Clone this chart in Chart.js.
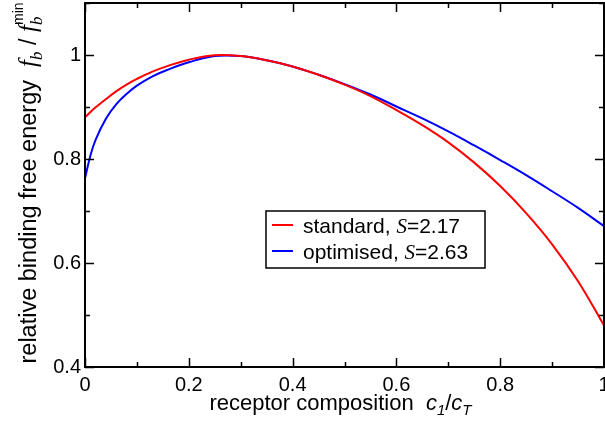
<!DOCTYPE html>
<html>
<head>
<meta charset="utf-8">
<script src="https://cdn.jsdelivr.net/npm/chart.js@4/dist/chart.umd.min.js"></script>
<style>
  html, body { margin: 0; padding: 0; background: #fff; }
  #wrap { width: 605px; height: 421px; }
</style>
</head>
<body>
<div id="wrap"><canvas id="chart"></canvas></div>
<script>
// receptor composition c1/cT
const composition = [0, 0.01, 0.02, 0.04, 0.06, 0.08, 0.1, 0.13, 0.16, 0.2, 0.25, 0.3, 0.35,
  0.4, 0.45, 0.5, 0.55, 0.6, 0.65, 0.7, 0.75, 0.8, 0.85, 0.9, 0.95, 1.0];
// relative binding free energy fb / fb_min
const standardVals = [0.880, 0.890, 0.899, 0.915, 0.930, 0.943, 0.954, 0.968, 0.979, 0.991, 0.9995, 0.998, 0.990,
  0.978, 0.962, 0.943, 0.921, 0.894, 0.865, 0.832, 0.793, 0.748, 0.696, 0.636, 0.565, 0.480];
const optimisedVals = [0.763, 0.805, 0.836, 0.877, 0.905, 0.925, 0.941, 0.959, 0.972, 0.986, 0.998, 0.998, 0.990,
  0.978, 0.962, 0.944, 0.924, 0.901, 0.878, 0.853, 0.826, 0.798, 0.769, 0.738, 0.706, 0.671];

const seriesNames = ['standard, ', 'optimised, '];
const seriesS = ['2.17', '2.63'];
const xTicks = [0, 0.2, 0.4, 0.6, 0.8, 1];
const yTicks = [0.4, 0.6, 0.8, 1];

const sans = '"Liberation Sans", Arial, sans-serif';
const serif = '"Liberation Serif", "Times New Roman", serif';

function pts(ys){ return composition.map((x, i) => ({x: x, y: ys[i]})); }

// draw a row of text pieces with their own fonts / offsets
function drawRuns(ctx, runs, x, y, align){
  let w = 0;
  runs.forEach(r => { ctx.font = r.font; r.w = r.stack ? 0 : ctx.measureText(r.text).width; w += r.w; });
  let cx = align === 'center' ? x - w / 2 : x;
  runs.forEach(r => {
    ctx.font = r.font;
    ctx.fillText(r.text, cx, y + (r.dy || 0));
    cx += r.w;
  });
}

const framePlugin = {
  id: 'frame',
  afterDatasetsDraw(chart){
    const ctx = chart.ctx, a = chart.chartArea;
    const xs = chart.scales.x, ys = chart.scales.y;
    ctx.save();
    ctx.strokeStyle = '#000';
    ctx.lineWidth = 2;
    ctx.strokeRect(a.left, a.top, a.right - a.left, a.bottom - a.top);
    ctx.lineWidth = 1.5;
    ctx.beginPath();
    for (let i = 0; i <= 10; i++){
      const px = Math.round(xs.getPixelForValue(i / 10)) + 0.5;
      const len = i % 2 === 0 ? 9 : 5;
      ctx.moveTo(px, a.bottom); ctx.lineTo(px, a.bottom - len);
      ctx.moveTo(px, a.top); ctx.lineTo(px, a.top + len);
    }
    for (let i = 4; i <= 11; i++){
      const py = Math.round(ys.getPixelForValue(i / 10)) + 0.5;
      const len = i % 2 === 0 ? 9 : 5;
      ctx.moveTo(a.left, py); ctx.lineTo(a.left + len, py);
      ctx.moveTo(a.right, py); ctx.lineTo(a.right - len, py);
    }
    ctx.stroke();

    // legend box
    const lx = a.left + 181, ly = a.top + 208, lw = 219, lh = 57;
    ctx.fillStyle = '#fff';
    ctx.fillRect(lx, ly, lw, lh);
    ctx.lineWidth = 1.5;
    ctx.strokeRect(lx, ly, lw, lh);
    chart.data.datasets.forEach((ds, i) => {
      const yy = ly + 14 + i * 26;
      ctx.strokeStyle = ds.borderColor;
      ctx.lineWidth = 2;
      ctx.beginPath();
      ctx.moveTo(lx + 6, yy); ctx.lineTo(lx + 27, yy);
      ctx.stroke();
      ctx.fillStyle = '#000';
      ctx.textBaseline = 'alphabetic';
      ctx.textAlign = 'left';
      drawRuns(ctx, [
        {text: seriesNames[i], font: '21px ' + sans},
        {text: 'S', font: 'italic 21px ' + serif},
        {text: '=' + seriesS[i], font: '21px ' + sans}
      ], lx + 37, yy + 8, 'left');
    });

    // axis titles
    ctx.fillStyle = '#000';
    ctx.textAlign = 'left';
    ctx.textBaseline = 'alphabetic';
    drawRuns(ctx, [
      {text: 'receptor composition  ', font: '22px ' + sans},
      {text: 'c', font: 'italic 22px ' + sans},
      {text: '1', font: 'italic 15px ' + sans, dy: 5},
      {text: '/', font: '22px ' + sans},
      {text: 'c', font: 'italic 22px ' + sans},
      {text: 'T', font: 'italic 15px ' + sans, dy: 5}
    ], (a.left + a.right) / 2 - 4, 410, 'center');

    ctx.translate(36, (a.top + a.bottom) / 2 + 5);
    ctx.rotate(-Math.PI / 2);
    drawRuns(ctx, [
      {text: 'relative binding free energy  ', font: '23.5px ' + sans},
      {text: 'f', font: 'italic 25px ' + serif},
      {text: 'b', font: 'italic 17px ' + serif, dy: 6},
      {text: ' / ', font: '23.5px ' + sans},
      {text: 'f', font: 'italic 25px ' + serif},
      {text: 'min', font: '14px ' + sans, dy: -13, stack: true},
      {text: 'b', font: 'italic 17px ' + serif, dy: 6}
    ], 0, 0, 'center');
    ctx.restore();
  }
};

new Chart(document.getElementById('chart'), {
  type: 'line',
  data: {
    datasets: [{
      label: 'standard',
      data: pts(standardVals),
      borderColor: '#ff0000',
      borderWidth: 2,
      pointRadius: 0,
      tension: 0.4,
      fill: false
    }, {
      label: 'optimised',
      data: pts(optimisedVals),
      borderColor: '#0000ff',
      borderWidth: 2,
      pointRadius: 0,
      tension: 0.4,
      fill: false
    }]
  },
  options: {
    responsive: true,
    maintainAspectRatio: false,
    animation: false,
    events: [],
    layout: { padding: { top: 3, right: 1, left: 0, bottom: 0 } },
    plugins: { legend: { display: false }, tooltip: { enabled: false } },
    scales: {
      x: {
        type: 'linear',
        min: 0, max: 1,
        grid: { display: false, drawTicks: false },
        border: { display: false },
        afterBuildTicks: s => { s.ticks = xTicks.map(v => ({value: v})); },
        ticks: {
          color: '#000', padding: 6,
          font: { family: sans, size: 20 },
          maxRotation: 0,
          callback: v => String(+v.toFixed(1))
        },
        afterFit: s => { s.height = 54; s.paddingLeft = 0; s.paddingRight = 0; }
      },
      y: {
        min: 0.4, max: 1.1,
        grid: { display: false, drawTicks: false },
        border: { display: false },
        afterBuildTicks: s => { s.ticks = yTicks.map(v => ({value: v})); },
        ticks: {
          color: '#000', padding: 4,
          font: { family: sans, size: 20 },
          callback: v => String(+v.toFixed(1))
        },
        afterFit: s => { s.width = 85; s.paddingTop = 0; s.paddingBottom = 0; }
      }
    }
  },
  plugins: [framePlugin]
});
</script>
</body>
</html>
